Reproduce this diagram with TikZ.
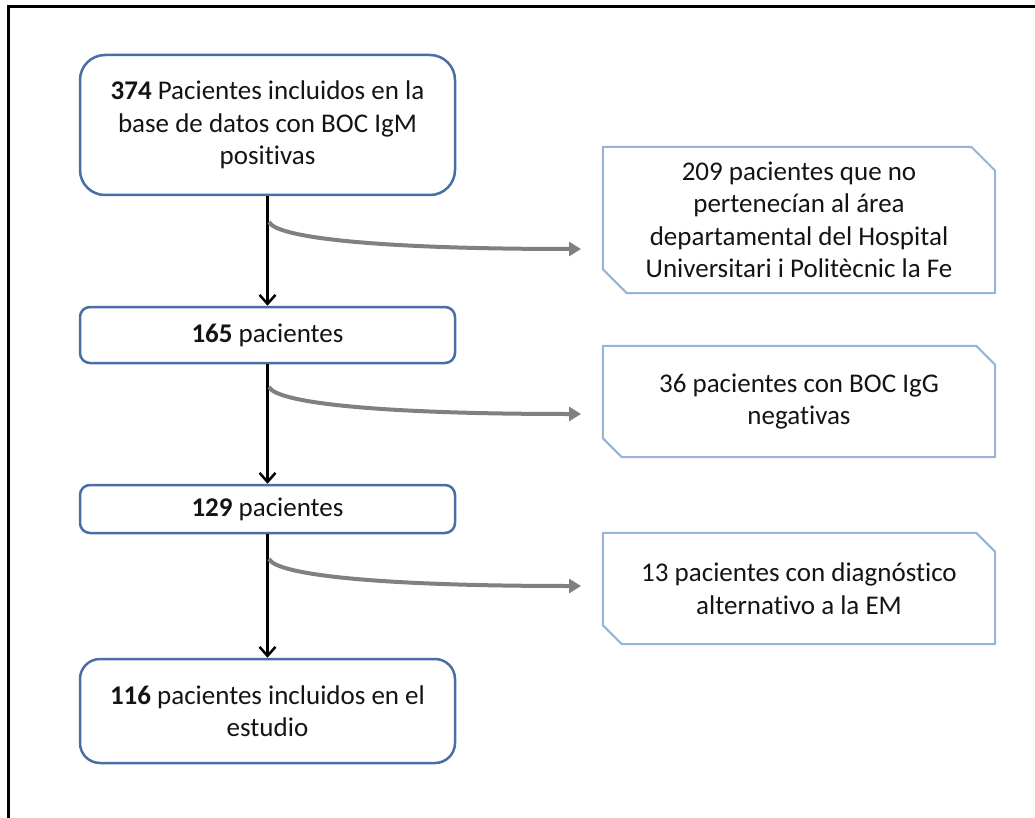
\documentclass[tikz,border=0pt]{standalone}
\usepackage{fontspec}
\setmainfont[Ligatures=NoCommon]{Carlito}
\usetikzlibrary{arrows.meta,calc}
\definecolor{boxblue}{RGB}{72,110,165}
\definecolor{lightblue}{RGB}{150,180,215}
\definecolor{arrgray}{RGB}{128,128,128}
\definecolor{txt}{RGB}{20,20,20}
\begin{document}
\begin{tikzpicture}[x=1pt,y=-1pt,
  mainbox/.style={draw=boxblue, line width=2.5pt, fill=white, minimum width=375pt, align=center, text=txt, font=\fontsize{27}{32.5}\selectfont, inner sep=0pt},
  sidebox/.style={draw=none, minimum width=392pt, align=center, text=txt, font=\fontsize{27}{32.5}\selectfont, inner sep=0pt},
  snipline/.style={draw=lightblue, line width=2pt, line join=round},
  downarr/.style={draw=black, line width=2.5pt, -{Straight Barb[length=9pt,width=16pt,line width=2.5pt]}},
  grayarr/.style={draw=arrgray, line width=4pt, -{Triangle[length=12pt,width=14pt]}},
  frameline/.style={draw=black, line width=3pt}
]
\useasboundingbox (0,0) rectangle (1035,818);
\coordinate (fl) at (8,818);
\coordinate (ftl) at (8,7);
\coordinate (fr) at (1035,7);
\draw[frameline] (fl) -- (ftl) -- (fr);

\node[mainbox, minimum height=140pt, rounded corners=25pt] (n1) at (267.5,125) {\textbf{374} Pacientes incluidos en la\\base de datos con BOC IgM\\positivas};
\node[mainbox, minimum height=56pt, rounded corners=10pt] (n2) at (267.5,335) {\textbf{165} pacientes};
\node[mainbox, minimum height=48pt, rounded corners=10pt] (n3) at (267.5,509) {\textbf{129} pacientes};
\node[mainbox, minimum height=104pt, rounded corners=20pt] (n4) at (267.5,711) {\textbf{116} pacientes incluidos en el\\estudio};

\node[sidebox, minimum height=146pt] (s1) at (799,220) {209 pacientes que no\\pertenecían al área\\departamental del Hospital\\Universitari i Politècnic la Fe};
\node[sidebox, minimum height=111pt] (s2) at (799,401.5) {36 pacientes con BOC IgG\\negativas};
\node[sidebox, minimum height=111pt] (s3) at (799,588.5) {13 pacientes con diagnóstico\\alternativo a la EM};

\foreach \s/\c in {s1/24,s2/19,s3/19}{
  \draw[snipline] (\s.north west) -- ($(\s.north east)+(-\c,0)$) -- ($(\s.north east)+(0,\c)$) -- (\s.south east) -- ($(\s.south west)+(\c,0)$) -- ($(\s.south west)+(0,-\c)$) -- cycle;
}

\draw[downarr] (n1.south) -- (n2.north);
\draw[downarr] (n2.south) -- (n3.north);
\draw[downarr] (n3.south) -- (n4.north);

\coordinate (b1) at (269,222);
\coordinate (e1) at (581,249);
\coordinate (b2) at (269,387);
\coordinate (e2) at (581,414);
\coordinate (b3) at (269,559);
\coordinate (e3) at (581,586);
\foreach \b/\e in {b1/e1,b2/e2,b3/e3}{
  \draw[grayarr] (\b) .. controls ($(\b)+(8,16)$) and ($(\b)+(110,27)$) .. (\e);
}
\end{tikzpicture}
\end{document}
